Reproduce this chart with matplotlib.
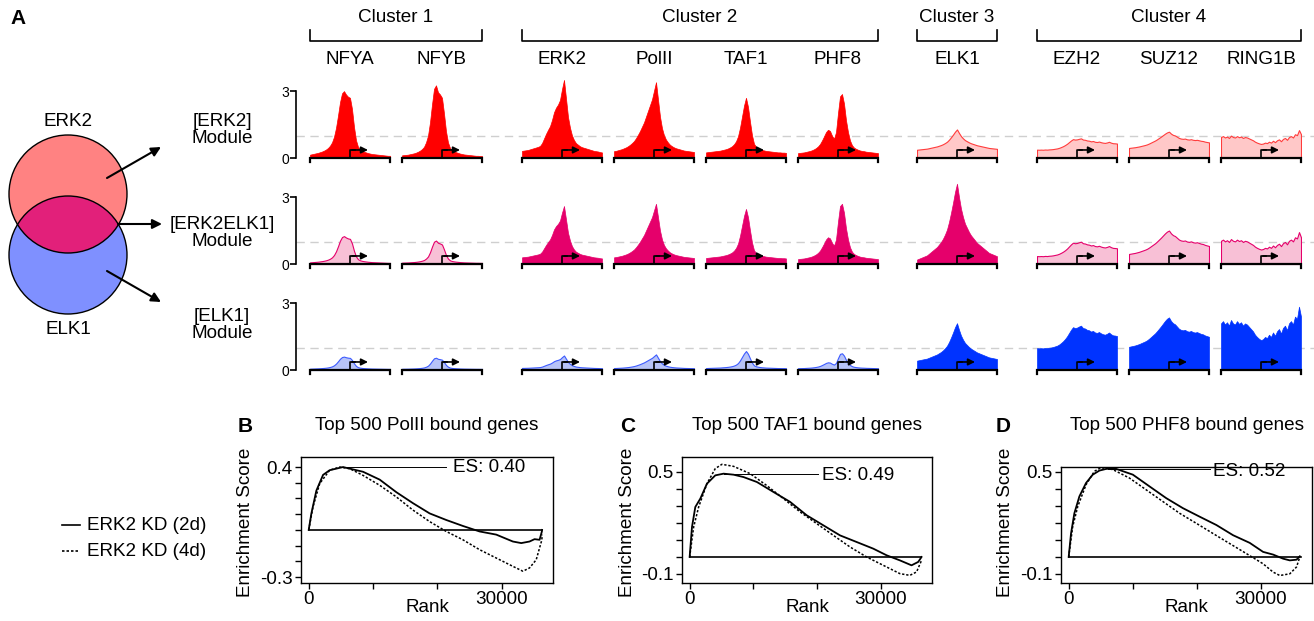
import numpy as np
import matplotlib
matplotlib.use('Agg')
import matplotlib.pyplot as plt
from matplotlib.patches import Circle

plt.rcParams['font.family'] = ['Liberation Sans', 'DejaVu Sans']

W, H = 1314, 621

# ---------------- panel A data ----------------
factors = ['NFYA', 'NFYB', 'ERK2', 'PolII', 'TAF1', 'PHF8', 'ELK1', 'EZH2', 'SUZ12', 'RING1B']
factor_cluster = [1, 1, 2, 2, 2, 2, 3, 4, 4, 4]
cluster_names = ['Cluster 1', 'Cluster 2', 'Cluster 3', 'Cluster 4']
module_names = ['[ERK2]\nModule', '[ERK2ELK1]\nModule', '[ELK1]\nModule']
strong_clusters = [[1, 2], [2, 3], [3, 4]]

# binding profiles around the TSS (41 bins), shape only
shape_nfya = [0.15, 0.17, 0.19, 0.21, 0.23, 0.26, 0.29, 0.33, 0.38, 0.45, 0.55, 0.7, 0.95, 1.35, 1.9,
              2.5, 2.9, 3.0, 2.85, 2.75, 2.7, 2.2, 1.4, 0.8, 0.5, 0.38, 0.32, 0.28, 0.25, 0.22, 0.2,
              0.18, 0.17, 0.16, 0.15, 0.14, 0.13, 0.12, 0.11, 0.1, 0.1]
shape_nfyb = [0.12, 0.13, 0.14, 0.15, 0.17, 0.19, 0.21, 0.24, 0.28, 0.33, 0.4, 0.5, 0.7, 1.0, 1.6,
              2.4, 3.1, 3.26, 2.95, 2.85, 2.7, 2.0, 1.2, 0.7, 0.45, 0.35, 0.3, 0.26, 0.23, 0.2, 0.18,
              0.16, 0.15, 0.14, 0.13, 0.12, 0.11, 0.1, 0.1, 0.09, 0.09]
shape_erk2 = [0.3, 0.31, 0.32, 0.33, 0.35, 0.37, 0.39, 0.41, 0.43, 0.46, 0.55, 0.7, 0.85, 0.98, 1.1,
              1.3, 1.55, 1.7, 1.8, 1.95, 2.3, 2.6, 2.0, 1.4, 1.05, 0.8, 0.65, 0.55, 0.5, 0.45, 0.42,
              0.4, 0.38, 0.36, 0.34, 0.32, 0.3, 0.29, 0.28, 0.26, 0.25]
shape_pol2 = [0.3, 0.31, 0.33, 0.35, 0.37, 0.4, 0.43, 0.47, 0.52, 0.58, 0.65, 0.75, 0.87, 1.0, 1.15,
              1.3, 1.5, 1.7, 1.9, 2.1, 2.4, 2.7, 2.1, 1.5, 1.1, 0.85, 0.7, 0.6, 0.52, 0.47, 0.43,
              0.4, 0.38, 0.36, 0.34, 0.32, 0.31, 0.3, 0.29, 0.28, 0.27]
shape_taf1 = [0.25, 0.26, 0.27, 0.28, 0.29, 0.3, 0.31, 0.32, 0.34, 0.36, 0.38, 0.41, 0.45, 0.5, 0.58,
              0.7, 0.9, 1.25, 1.7, 2.15, 2.47, 2.1, 1.5, 0.95, 0.6, 0.48, 0.42, 0.38, 0.35, 0.33, 0.31,
              0.3, 0.29, 0.28, 0.27, 0.26, 0.25, 0.25, 0.24, 0.24, 0.23]
shape_phf8 = [0.22, 0.23, 0.24, 0.25, 0.27, 0.29, 0.31, 0.34, 0.38, 0.43, 0.5, 0.6, 0.75, 0.92, 1.1,
              1.2, 1.15, 0.95, 0.82, 1.1, 1.9, 2.6, 2.7, 2.3, 1.6, 1.1, 0.75, 0.55, 0.45, 0.4, 0.36,
              0.33, 0.31, 0.3, 0.28, 0.27, 0.26, 0.25, 0.24, 0.23, 0.22]
shape_elk1 = [0.37, 0.38, 0.39, 0.4, 0.41, 0.42, 0.44, 0.46, 0.48, 0.5, 0.52, 0.55, 0.58, 0.62, 0.67,
              0.73, 0.82, 0.93, 1.05, 1.18, 1.28, 1.12, 0.98, 0.88, 0.8, 0.75, 0.7, 0.66, 0.63, 0.6,
              0.57, 0.55, 0.53, 0.51, 0.49, 0.47, 0.45, 0.44, 0.43, 0.42, 0.41]
shape_ezh2 = [0.97, 0.96, 0.97, 0.96, 0.98, 0.97, 0.99, 1.0, 1.02, 1.05, 1.08, 1.13, 1.2, 1.28, 1.38,
              1.5, 1.65, 1.8, 1.92, 1.88, 1.9, 1.95, 1.99, 1.88, 1.86, 1.8, 1.78, 1.72, 1.75, 1.68,
              1.66, 1.7, 1.64, 1.6, 1.58, 1.62, 1.68, 1.6, 1.55, 1.54, 1.52]
shape_suz12 = [1.04, 1.06, 1.08, 1.1, 1.13, 1.16, 1.2, 1.24, 1.28, 1.33, 1.4, 1.48, 1.56, 1.64, 1.74,
               1.85, 1.96, 2.08, 2.2, 2.3, 2.36, 2.2, 2.1, 2.05, 1.95, 1.85, 1.8, 1.78, 1.8, 1.74,
               1.72, 1.75, 1.7, 1.68, 1.7, 1.66, 1.62, 1.6, 1.55, 1.52, 1.49]
shape_ring1b = [2.1, 2.2, 2.05, 2.15, 2.0, 2.25, 2.1, 2.05, 2.2, 2.08, 2.15, 2.0, 2.1, 2.05, 1.95,
                1.85, 1.75, 1.6, 1.5, 1.42, 1.36, 1.4, 1.5, 1.45, 1.6, 1.5, 1.7, 1.55, 1.75, 1.85,
                1.65, 1.9, 2.0, 1.8, 2.1, 2.2, 2.05, 2.4, 2.3, 2.84, 2.4]
shapes = [shape_nfya, shape_nfyb, shape_erk2, shape_pol2, shape_taf1, shape_phf8,
          shape_elk1, shape_ezh2, shape_suz12, shape_ring1b]

# max and min enrichment of each profile, one list per module
peak_erk2_mod = [3.0, 3.26, 3.5, 3.4, 2.7, 2.87, 1.28, 0.88, 1.18, 1.25]
peak_both_mod = [1.25, 1.05, 2.6, 2.7, 2.47, 2.7, 3.6, 1.0, 1.5, 1.43]
peak_elk1_mod = [0.6, 0.55, 0.65, 0.7, 0.85, 0.75, 2.1, 1.99, 2.36, 2.84]
floor_erk2_mod = [0.1, 0.09, 0.25, 0.27, 0.23, 0.22, 0.37, 0.37, 0.45, 0.63]
floor_both_mod = [0.05, 0.05, 0.25, 0.27, 0.25, 0.22, 0.2, 0.35, 0.45, 0.65]
floor_elk1_mod = [0.05, 0.05, 0.08, 0.08, 0.08, 0.08, 0.42, 0.97, 1.04, 1.34]
peaks = [peak_erk2_mod, peak_both_mod, peak_elk1_mod]
floors = [floor_erk2_mod, floor_both_mod, floor_elk1_mod]

# ---------------- panels B-D data (GSEA running scores) ----------------
n_genes = 36300
pol2_rank_2d = [0, 415, 1190, 2230, 3260, 5340, 6370, 8450, 11040, 13630, 16220, 18810, 21400,
                23990, 26580, 29170, 31760, 33060, 34350, 35130, 35910, 36270, 36300]
pol2_es_2d = [0, 0.105, 0.25, 0.35, 0.38, 0.40, 0.39, 0.37, 0.32, 0.24, 0.17, 0.105, 0.063,
              0.025, -0.01, -0.03, -0.074, -0.084, -0.074, -0.059, -0.063, -0.01, 0]
pol2_rank_4d = [0, 670, 1710, 3260, 4820, 6370, 8450, 11040, 13630, 16220, 18810, 21400, 23990,
                26580, 29170, 31760, 33320, 34350, 35390, 36270, 36300]
pol2_es_4d = [0, 0.147, 0.295, 0.38, 0.40, 0.39, 0.347, 0.284, 0.21, 0.126, 0.053, -0.01, -0.063,
              -0.126, -0.179, -0.232, -0.263, -0.242, -0.19, -0.063, -0.03]
taf1_rank_2d = [0, 365, 887, 1670, 2710, 4020, 5320, 6890, 8450, 10540, 13150, 15750, 18360,
                20970, 23580, 26190, 28790, 30880, 32970, 34790, 35840, 36360]
taf1_es_2d = [0, 0.176, 0.294, 0.343, 0.431, 0.48, 0.49, 0.484, 0.47, 0.441, 0.382, 0.324, 0.245,
              0.186, 0.127, 0.088, 0.049, 0.01, -0.02, -0.049, -0.029, 0]
taf1_rank_4d = [0, 626, 1410, 2710, 4020, 5060, 6890, 9490, 12100, 14710, 17320, 19930, 22540,
                25140, 27750, 30360, 32970, 34530, 35580, 36360]
taf1_es_4d = [0, 0.176, 0.294, 0.431, 0.52, 0.545, 0.533, 0.49, 0.42, 0.343, 0.265, 0.196, 0.127,
              0.059, 0, -0.049, -0.098, -0.108, -0.088, -0.02]
phf8_rank_2d = [0, 365, 887, 1670, 2710, 3760, 4800, 6100, 7410, 10020, 12620, 15230, 17840,
                20450, 23060, 25670, 28270, 30360, 31930, 33490, 34530, 35580, 36100]
phf8_es_2d = [0, 0.138, 0.257, 0.356, 0.435, 0.484, 0.508, 0.52, 0.518, 0.484, 0.415, 0.346, 0.287,
              0.237, 0.188, 0.128, 0.083, 0.03, 0.014, -0.01, -0.02, -0.016, 0.004]
phf8_rank_4d = [0, 626, 1410, 2710, 4020, 5060, 6890, 9490, 12100, 14710, 17320, 19930, 22540,
                25140, 27750, 30360, 31930, 32970, 34530, 35580, 36100]
phf8_es_4d = [0, 0.178, 0.296, 0.425, 0.504, 0.525, 0.514, 0.464, 0.395, 0.326, 0.257, 0.198,
              0.138, 0.079, 0.02, -0.04, -0.089, -0.109, -0.099, -0.059, 0]

gsea_titles = ['Top 500 PolII bound genes', 'Top 500 TAF1 bound genes', 'Top 500 PHF8 bound genes']
gsea_letters = ['B', 'C', 'D']
gsea_2d = [(pol2_rank_2d, pol2_es_2d), (taf1_rank_2d, taf1_es_2d), (phf8_rank_2d, phf8_es_2d)]
gsea_4d = [(pol2_rank_4d, pol2_es_4d), (taf1_rank_4d, taf1_es_4d), (phf8_rank_4d, phf8_es_4d)]
es_values = [0.40, 0.49, 0.52]
es_ranks = [5340, 5320, 6100]
ytick_lo = [-0.3, -0.1, -0.1]
ytick_hi = [0.4, 0.5, 0.5]

# ---------------- layout ----------------
fig = plt.figure(figsize=(W / 100, H / 100), dpi=100)


def px_axes(x0, y0, x1, y1):
    # rectangle in pixels, measured from the top-left corner
    return fig.add_axes([x0 / W, 1 - y1 / H, (x1 - x0) / W, (y1 - y0) / H])


ov = px_axes(0, 0, W, H)
ov.set_xlim(0, W)
ov.set_ylim(H, 0)
ov.axis('off')

FS = 13.6
strong_col = ['#FF0000', '#E5006B', '#0033FF']
light_face = ['#FFC8C8', '#F8C0D6', '#B7C3F7']
light_edge = ['#FF3C3C', '#E5006B', '#3D5BFF']

cell_w = 80
cell_left = [310, 402, 522, 614, 706, 798, 917, 1037, 1129, 1221]
row_base = [158, 264, 370]
ppu = 22.3
y_lo, y_hi = -0.35, 3.9
x_bins = np.linspace(-1, 1, 41)

# Venn diagram
c_top = (68, 194)
c_bot = (68, 255)
rad = 59
ov.add_patch(Circle(c_top, rad, facecolor='#FF8282', edgecolor='none'))
ov.add_patch(Circle(c_bot, rad, facecolor='#7F90FF', edgecolor='none'))
lens = Circle(c_bot, rad, facecolor='#E2207A', edgecolor='none')
ov.add_patch(lens)
lens.set_clip_path(Circle(c_top, rad, transform=ov.transData))
ov.add_patch(Circle(c_top, rad, facecolor='none', edgecolor='k', lw=1))
ov.add_patch(Circle(c_bot, rad, facecolor='none', edgecolor='k', lw=1))
ov.text(68, 121, 'ERK2', ha='center', va='center', fontsize=FS)
ov.text(68, 330, 'ELK1', ha='center', va='center', fontsize=FS)
arrow_kw = dict(arrowstyle='-|>', color='k', lw=1.5, mutation_scale=14, shrinkA=0, shrinkB=0)
ov.annotate('', xy=(161, 147), xytext=(107, 178), arrowprops=arrow_kw)
ov.annotate('', xy=(162, 224), xytext=(118, 224), arrowprops=arrow_kw)
ov.annotate('', xy=(161, 302), xytext=(107, 271), arrowprops=arrow_kw)

ov.text(18, 18, 'A', ha='center', va='center', fontsize=15, fontweight='bold')

module_label_y = [130, 233, 325]
for r in range(3):
    ov.text(222, module_label_y[r], module_names[r], ha='center', va='center',
            fontsize=FS, linespacing=1.0)

# cluster headers
for k, cname in enumerate(cluster_names):
    idx = [j for j in range(len(factors)) if factor_cluster[j] == k + 1]
    x0 = cell_left[idx[0]]
    x1 = cell_left[idx[-1]] + cell_w
    ov.plot([x0, x0, x1, x1], [30, 41, 41, 30], color='k', lw=1.2)
    ov.text((x0 + x1) / 2, 18, cname, ha='center', va='center', fontsize=FS)
for j, name in enumerate(factors):
    ov.text(cell_left[j] + cell_w / 2, 59, name, ha='center', va='center', fontsize=FS)

# profile rows
for r in range(3):
    base = row_base[r]
    top = base - y_hi * ppu
    bot = base - y_lo * ppu
    rax = px_axes(296, top, W, bot)
    rax.set_xlim(0, 1)
    rax.set_ylim(y_lo, y_hi)
    rax.patch.set_visible(False)
    for s in ['top', 'right', 'bottom']:
        rax.spines[s].set_visible(False)
    rax.spines['left'].set_bounds(0, 3)
    rax.spines['left'].set_linewidth(1.2)
    rax.set_xticks([])
    rax.set_yticks([0, 3])
    rax.set_yticklabels(['0', '3'])
    rax.tick_params(axis='y', direction='out', length=4, width=1.2, pad=1, labelsize=10)
    rax.axhline(1, color='#CFCFCF', lw=1, dashes=(6, 4), zorder=0)

    for j in range(len(factors)):
        cax = px_axes(cell_left[j], top, cell_left[j] + cell_w, bot)
        cax.set_xlim(-1, 1)
        cax.set_ylim(y_lo, y_hi)
        cax.axis('off')
        s = np.array(shapes[j], dtype=float)
        norm = (s - s.min()) / (s.max() - s.min())
        prof = floors[r][j] + norm * (peaks[r][j] - floors[r][j])
        if factor_cluster[j] in strong_clusters[r]:
            cax.fill_between(x_bins, 0, prof, facecolor=strong_col[r], edgecolor=strong_col[r], lw=0.5)
        else:
            cax.fill_between(x_bins, 0, prof, facecolor=light_face[r], edgecolor=light_edge[r], lw=0.8)
        # gene body bracket and TSS arrow
        cax.plot([-1, -1, 1, 1], [-0.17, 0, 0, -0.17], color='k', lw=1.6, clip_on=False,
                 solid_joinstyle='miter')
        cax.plot([0, 0, 0.12], [0, 0.36, 0.36], color='k', lw=1.2)
        cax.annotate('', xy=(0.45, 0.36), xytext=(0.05, 0.36),
                     arrowprops=dict(arrowstyle='-|>', color='k', lw=1.2, mutation_scale=10,
                                     shrinkA=0, shrinkB=0))

# legend for B-D
ov.plot([62, 80], [525, 525], color='k', lw=1.2)
ov.plot([62, 80], [551, 551], color='k', lw=1.2, dashes=(1.5, 1.2))
ov.text(87, 525, 'ERK2 KD (2d)', ha='left', va='center', fontsize=FS)
ov.text(87, 551, 'ERK2 KD (4d)', ha='left', va='center', fontsize=FS)

gsea_boxes = [(301, 457, 553, 583), (682, 457, 932, 583), (1061, 467, 1312, 583)]
gsea_ylims = [(-0.338, 0.464), (-0.153, 0.588), (-0.153, 0.529)]
es_text_x = [22400, 20800, 22600]
es_text_y = [0.40, 0.482, 0.503]
es_line_end = [21400, 20200, 22000]
ylabel_x = [245, 627, 1005]
letter_x = [245, 628, 1003]

for k in range(3):
    x0, y0, x1, y1 = gsea_boxes[k]
    ax = px_axes(x0, y0, x1, y1)
    ax.set_xlim(-1200, 38000)
    ax.set_ylim(*gsea_ylims[k])
    ax.plot([0, n_genes], [0, 0], color='k', lw=1.2)
    ax.plot(*gsea_2d[k], color='k', lw=1.3)
    ax.plot(*gsea_4d[k], color='k', lw=1.1, dashes=(1.5, 1.2))
    ax.plot([es_ranks[k], es_line_end[k]], [es_values[k], es_values[k]], color='k', lw=0.7)
    ax.text(es_text_x[k], es_text_y[k], 'ES: %.2f' % es_values[k], ha='left', va='center',
            fontsize=FS)
    ax.set_xticks([0, 10000, 20000, 30000])
    ax.set_xticklabels(['0', '', '', '30000'])
    yt = np.round(np.arange(ytick_lo[k], ytick_hi[k] + 0.05, 0.1), 1)
    ax.set_yticks(yt)
    ax.set_yticklabels([('%g' % v if v in (ytick_lo[k], ytick_hi[k]) else '') for v in yt])
    ax.tick_params(direction='out', length=4, width=1, pad=2, labelsize=FS)
    for sp in ax.spines.values():
        sp.set_linewidth(1)
    cx = (x0 + x1) / 2
    ov.text(cx, 425, gsea_titles[k], ha='center', va='center', fontsize=FS)
    ov.text(letter_x[k], 426, gsea_letters[k], ha='center', va='center', fontsize=15,
            fontweight='bold')
    ov.text(ylabel_x[k], 522, 'Enrichment Score', ha='center', va='center', fontsize=FS,
            rotation=90)
    ov.text(cx, 607, 'Rank', ha='center', va='center', fontsize=FS)

fig.savefig('out.png', dpi=100)
